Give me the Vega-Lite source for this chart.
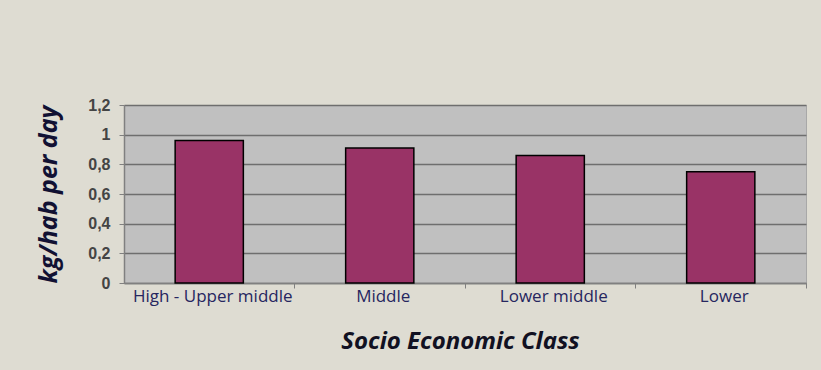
{
  "$schema": "https://vega.github.io/schema/vega-lite/v6.json",
  "width": 682,
  "height": 178,
  "autosize": {"type": "none"},
  "padding": {"left": 124, "top": 105, "right": 15, "bottom": 87},
  "background": "#DEDCD2",
  "view": {"fill": "#C0C0C0", "stroke": "#A8A8A8", "strokeWidth": 1},
  "data": {
    "values": [
      {"cls": "High - Upper middle", "kg": 0.96},
      {"cls": "Middle", "kg": 0.91},
      {"cls": "Lower middle", "kg": 0.86},
      {"cls": "Lower", "kg": 0.75}
    ]
  },
  "mark": {"type": "bar", "fill": "#993366", "stroke": "#000000", "strokeWidth": 1.5},
  "encoding": {
    "x": {
      "field": "cls",
      "type": "nominal",
      "sort": null,
      "scale": {"paddingInner": 0.6, "paddingOuter": 0.3},
      "axis": {
        "title": "Socio Economic Class",
        "titleFont": "Open Sans",
        "titleFontSize": 24,
        "titleFontStyle": "italic",
        "titleFontWeight": "bold",
        "titleColor": "#111122",
        "titleBaseline": "top",
        "titleY": 46,
        "titleX": 336,
        "labelAngle": 0,
        "labelFont": "Open Sans",
        "labelFontSize": 17,
        "labelFontWeight": 500,
        "labelColor": "#262660",
        "labelPadding": 0,
        "tickOffset": 85,
        "labelOffset": -82,
        "tickSize": 5,
        "tickColor": "#808080",
        "domainColor": "#808080",
        "domainWidth": 1.5,
        "grid": false
      }
    },
    "y": {
      "field": "kg",
      "type": "quantitative",
      "scale": {"domain": [0, 1.2], "nice": false},
      "axis": {
        "values": [0, 0.2, 0.4, 0.6, 0.8, 1, 1.2],
        "labelExpr": "replace(format(datum.value, '~g'), '.', ',')",
        "title": "kg/hab per day",
        "titleFont": "Open Sans",
        "titleFontSize": 25,
        "titleFontStyle": "italic",
        "titleFontWeight": "bold",
        "titleColor": "#111133",
        "titleX": -76,
        "titleY": 89,
        "titleAngle": -90,
        "titleBaseline": "middle",
        "labelFont": "Liberation Sans",
        "labelFontSize": 16,
        "labelFontWeight": "bold",
        "labelColor": "#444444",
        "labelPadding": 9,
        "tickSize": 5,
        "tickColor": "#808080",
        "domainColor": "#808080",
        "domainWidth": 1.5,
        "grid": true,
        "gridColor": "#6E6E6E",
        "gridWidth": 1.5
      }
    }
  }
}
